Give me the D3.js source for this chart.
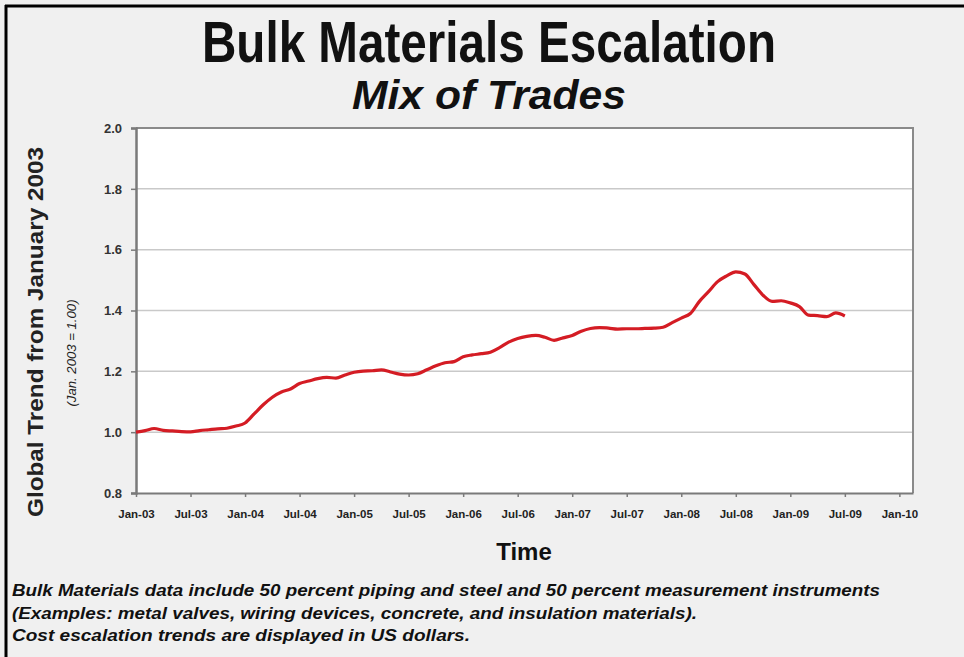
<!DOCTYPE html>
<html><head><meta charset="utf-8">
<script src="https://cdn.jsdelivr.net/npm/d3@7"></script>
<style>body{margin:0;background:#f0f0f0;}svg{display:block;font-family:"Liberation Sans",Arial,sans-serif;}</style>
</head><body>
<script>
// Month index 0 = Jan-03
const values = [1.000,1.005,1.012,1.006,1.004,1.002,1.001,1.005,1.008,1.011,1.013,1.020,
1.030,1.060,1.090,1.115,1.132,1.142,1.160,1.168,1.176,1.180,1.178,1.188,
1.197,1.201,1.202,1.205,1.198,1.191,1.188,1.192,1.205,1.218,1.228,1.232,
1.248,1.254,1.258,1.263,1.278,1.296,1.308,1.315,1.318,1.312,1.302,1.310,
1.318,1.332,1.341,1.344,1.342,1.339,1.340,1.340,1.341,1.342,1.345,1.360,
1.375,1.390,1.430,1.462,1.495,1.514,1.527,1.520,1.485,1.450,1.430,1.432,
1.425,1.413,1.385,1.383,1.380,1.392,1.382];
const xTickMonths = [0,6,12,18,24,30,36,42,48,54,60,66,72,78,84];
const xTickLabels = ["Jan-03","Jul-03","Jan-04","Jul-04","Jan-05","Jul-05","Jan-06","Jul-06","Jan-07","Jul-07","Jan-08","Jul-08","Jan-09","Jul-09","Jan-10"];
const yTicks = [0.8,1.0,1.2,1.4,1.6,1.8,2.0];
const footnotes = [
 "Bulk Materials data include 50 percent piping and steel and 50 percent measurement instruments",
 "(Examples: metal valves, wiring devices, concrete, and insulation materials).",
 "Cost escalation trends are displayed in US dollars."];

const W=964,H=657;
const svg=d3.select("body").append("svg").attr("width",W).attr("height",H);
svg.append("rect").attr("width",W).attr("height",H).attr("fill","#f0f0f0");
// frame
svg.append("line").attr("x1",6).attr("x2",6).attr("y1",5).attr("y2",H).attr("stroke","#000").attr("stroke-width",3);
svg.append("line").attr("x1",5).attr("x2",W).attr("y1",6).attr("y2",6).attr("stroke","#000").attr("stroke-width",3);

const L=136,R=913,T=128,B=493;
const x=d3.scaleLinear().domain([0,85.5]).range([L,R]);
const y=d3.scaleLinear().domain([0.8,2.0]).range([B,T]);

svg.append("rect").attr("x",L).attr("y",T).attr("width",R-L).attr("height",B-T).attr("fill","#fff");
// gridlines
svg.append("g").selectAll("line").data(yTicks.slice(1)).join("line")
 .attr("x1",L).attr("x2",R).attr("y1",d=>y(d)).attr("y2",d=>y(d))
 .attr("stroke","#c9c9c9").attr("stroke-width",1.5);
// right/top border
svg.append("path").attr("d",`M${L},${T}H${R}V${B}`).attr("fill","none").attr("stroke","#8a8a8a").attr("stroke-width",2);

// y axis
const ya=svg.append("g").attr("transform",`translate(${L},0)`)
 .call(d3.axisLeft(y).tickValues(yTicks).tickFormat(d3.format(".1f")).tickSize(5).tickPadding(9));
ya.select(".domain").attr("stroke","#7a7a7a").attr("stroke-width",2.5);
ya.selectAll(".tick line").attr("stroke","#7a7a7a").attr("stroke-width",1.5);
ya.selectAll("text").attr("font-size",13).attr("font-weight","bold").attr("fill","#333");

// x axis
const xa=svg.append("g").attr("transform",`translate(0,${B})`)
 .call(d3.axisBottom(x).tickValues(xTickMonths).tickFormat((d,i)=>xTickLabels[i]).tickSize(4).tickSizeOuter(0).tickPadding(13));
xa.select(".domain").attr("stroke","#7a7a7a").attr("stroke-width",2);
xa.selectAll(".tick line").attr("stroke","#7a7a7a").attr("stroke-width",1.5);
xa.selectAll("text").attr("font-size",11.5).attr("font-weight","bold").attr("fill","#222");

// line
svg.append("path").datum(values)
 .attr("d",d3.line().x((d,i)=>x(i)).y(d=>y(d)).curve(d3.curveMonotoneX))
 .attr("fill","none").attr("stroke","#d41c24").attr("stroke-width",3.2).attr("stroke-linejoin","round");

// titles
svg.append("text").attr("x",489).attr("y",62).attr("text-anchor","middle")
 .attr("font-size",57).attr("font-weight","bold").attr("fill","#111")
 .attr("textLength",574).attr("lengthAdjust","spacingAndGlyphs").text("Bulk Materials Escalation");
svg.append("text").attr("x",489).attr("y",109).attr("text-anchor","middle")
 .attr("font-size",41).attr("font-weight","bold").attr("font-style","italic").attr("fill","#111")
 .attr("textLength",274).attr("lengthAdjust","spacingAndGlyphs").text("Mix of Trades");

// axis titles
svg.append("text").attr("transform","translate(43,332) rotate(-90)").attr("text-anchor","middle")
 .attr("font-size",22).attr("font-weight","bold").attr("fill","#222")
 .attr("textLength",370).attr("lengthAdjust","spacingAndGlyphs").text("Global Trend from January 2003");
svg.append("text").attr("transform","translate(76,353) rotate(-90)").attr("text-anchor","middle")
 .attr("font-size",12).attr("font-style","italic").attr("fill","#222")
 .attr("textLength",107).attr("lengthAdjust","spacingAndGlyphs").text("(Jan. 2003 = 1.00)");
svg.append("text").attr("x",524).attr("y",560).attr("text-anchor","middle")
 .attr("font-size",24).attr("font-weight","bold").attr("fill","#111").text("Time");

// footnotes
const fnLen=[868,685,458];
svg.append("g").selectAll("text").data(footnotes).join("text")
 .attr("x",12).attr("y",(d,i)=>596+i*22.5)
 .attr("font-size",16.5).attr("font-weight","bold").attr("font-style","italic").attr("fill","#111")
 .attr("textLength",(d,i)=>fnLen[i]).attr("lengthAdjust","spacingAndGlyphs").text(d=>d);
</script>
</body></html>
